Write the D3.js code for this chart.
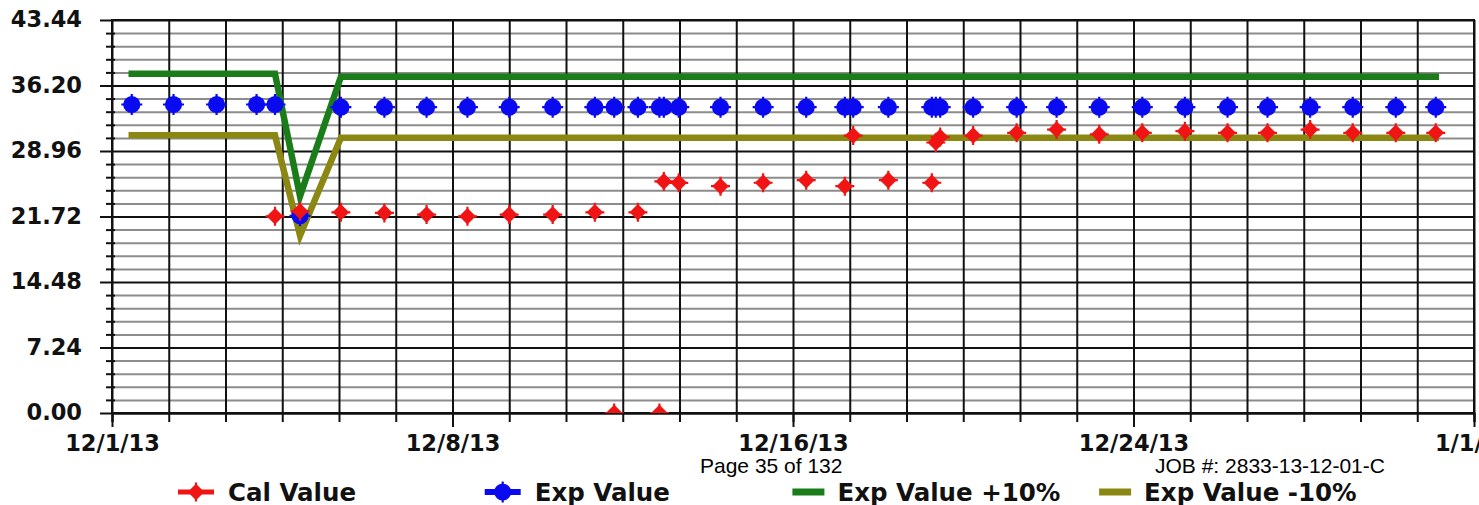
<!DOCTYPE html>
<html>
<head>
<meta charset="utf-8">
<script src="https://cdn.jsdelivr.net/npm/d3@7"></script>
<style>
  body { margin: 0; background: #fff; }
  svg { display: block; }
</style>
</head>
<body>
<div class="canva"></div>
<script>
// readings (time of each calibration entry)
const times = ["12/01/13 10:48","12/02/13 09:36","12/03/13 09:07","12/04/13 06:58","12/04/13 17:02",
  "12/05/13 06:43","12/06/13 05:02","12/07/13 04:48","12/08/13 03:50","12/09/13 02:10",
  "12/10/13 00:58","12/11/13 00:43","12/11/13 23:46","12/12/13 10:19","12/12/13 23:17",
  "12/13/13 11:02","12/13/13 13:26","12/13/13 21:36","12/14/13 20:24","12/15/13 19:41",
  "12/16/13 19:12","12/17/13 16:19","12/17/13 20:53","12/18/13 16:05","12/19/13 15:50",
  "12/19/13 18:00","12/19/13 20:24","12/20/13 14:24","12/21/13 14:10","12/22/13 12:00",
  "12/23/13 11:17","12/24/13 10:48","12/25/13 10:05","12/26/13 09:22","12/27/13 07:12",
  "12/28/13 06:29","12/29/13 05:46","12/30/13 05:17","12/31/13 03:07"];

const calValue = [null, null, null, null, 21.74,
  22.3, 22.18, 22.12, 21.93, 21.74,
  21.93, 21.93, 22.18, 0, 22.18,
  0, 25.6, 25.44, 25.07, 25.45,
  25.74, 25.07, 30.67, 25.74, 25.45,
  29.9, 30.5, 30.67, 30.97, 31.33,
  30.8, 30.97, 31.15, 30.97, 30.97,
  31.33, 30.97, 30.97, 30.97];

const expValue = [34.1, 34.1, 34.1, 34.1, 34.1,
  21.8, 33.8, 33.8, 33.8, 33.8,
  33.8, 33.8, 33.8, 33.8, 33.8,
  33.8, 33.8, 33.8, 33.8, 33.8,
  33.8, 33.8, 33.8, 33.8, 33.8,
  33.8, 33.8, 33.8, 33.8, 33.8,
  33.8, 33.8, 33.8, 33.8, 33.8,
  33.8, 33.8, 33.8, 33.8];

const expPlus10 = [37.51, 37.51, 37.51, 37.51, 37.51,
  23.98, 37.18, 37.18, 37.18, 37.18,
  37.18, 37.18, 37.18, 37.18, 37.18,
  37.18, 37.18, 37.18, 37.18, 37.18,
  37.18, 37.18, 37.18, 37.18, 37.18,
  37.18, 37.18, 37.18, 37.18, 37.18,
  37.18, 37.18, 37.18, 37.18, 37.18,
  37.18, 37.18, 37.18, 37.18];

const expMinus10 = [30.69, 30.69, 30.69, 30.69, 30.69,
  19.62, 30.42, 30.42, 30.42, 30.42,
  30.42, 30.42, 30.42, 30.42, 30.42,
  30.42, 30.42, 30.42, 30.42, 30.42,
  30.42, 30.42, 30.42, 30.42, 30.42,
  30.42, 30.42, 30.42, 30.42, 30.42,
  30.42, 30.42, 30.42, 30.42, 30.42,
  30.42, 30.42, 30.42, 30.42];

const yTickLabels = ["0.00", "7.24", "14.48", "21.72", "28.96", "36.20", "43.44"];
const xTickLabels = ["12/1/13", "12/8/13", "12/16/13", "12/24/13", "1/1/14"];
const legendNames = ["Cal Value", "Exp Value", "Exp Value +10%", "Exp Value -10%"];
const footerLeft = "Page 35 of 132";
const footerRight = "JOB #: 2833-13-12-01-C";

const width = 1479, height = 505;
const margin = { top: 20, right: 5, bottom: 92, left: 112 };

const parse = d3.timeParse("%m/%d/%y %H:%M");
const data = times.map((t, i) => ({
  date: parse(t),
  cal: calValue[i],
  exp: expValue[i],
  plus: expPlus10[i],
  minus: expMinus10[i]
}));

const t0 = parse("12/01/13 00:00"), t1 = parse("01/01/14 00:00");
const x = d3.scaleTime([t0, t1], [margin.left, width - margin.right]);
const yMax = +yTickLabels[yTickLabels.length - 1];
const y = d3.scaleLinear([0, yMax], [height - margin.bottom, margin.top]);

// 4 label intervals, 6 grid steps each
const gridDates = d3.range(25).map(i => new Date(+t0 + i * (t1 - t0) / 24));
const majorDates = gridDates.filter((d, i) => i % 6 === 0);
const yMajor = yTickLabels.map(Number);
const yMinor = d3.range(31).map(i => i * yMax / 30).filter((v, i) => i % 5 !== 0);

const svg = d3.select(".canva").append("svg")
  .attr("width", width)
  .attr("height", height)
  .attr("viewBox", [0, 0, width, height]);

svg.append("clipPath").attr("id", "plot")
  .append("rect")
  .attr("x", margin.left).attr("y", margin.top)
  .attr("width", width - margin.right - margin.left)
  .attr("height", height - margin.bottom - margin.top);

const tickFont = "'DejaVu Sans', Verdana, sans-serif";

// horizontal minor grid
svg.append("g")
  .attr("transform", `translate(${margin.left},0)`)
  .call(d3.axisLeft(y).tickValues(yMinor).tickSize(-(width - margin.right - margin.left)).tickFormat(""))
  .call(g => g.select(".domain").remove())
  .call(g => g.selectAll(".tick line").attr("stroke", "#8c8c8c").attr("stroke-width", 2));

// minor tick stubs on the left
svg.append("g")
  .attr("transform", `translate(${margin.left + 3},0)`)
  .call(d3.axisLeft(y).tickValues(yMinor).tickSize(9).tickFormat(""))
  .call(g => g.select(".domain").remove())
  .call(g => g.selectAll(".tick line").attr("stroke", "#111").attr("stroke-width", 2));

// vertical grid
svg.append("g")
  .attr("transform", `translate(0,${height - margin.bottom})`)
  .call(d3.axisBottom(x).tickValues(gridDates).tickSize(-(height - margin.bottom - margin.top)).tickFormat(""))
  .call(g => g.select(".domain").remove())
  .call(g => g.selectAll(".tick line").attr("stroke", "#111").attr("stroke-width", 2));

// horizontal major grid + y labels
svg.append("g")
  .attr("transform", `translate(${margin.left},0)`)
  .call(d3.axisLeft(y).tickValues(yMajor).tickSize(-(width - margin.right - margin.left)).tickPadding(0)
    .tickFormat((d, i) => yTickLabels[i]))
  .call(g => g.select(".domain").remove())
  .call(g => g.selectAll(".tick line").attr("stroke", "#111").attr("stroke-width", 2))
  .call(g => g.selectAll(".tick").append("line")
    .attr("x1", -12).attr("x2", 0)
    .attr("stroke", "#111").attr("stroke-width", 2))
  .call(g => g.selectAll(".tick text")
    .attr("x", -30)
    .attr("dy", "0.3em")
    .attr("fill", "#111")
    .attr("font-family", tickFont)
    .attr("font-weight", "bold")
    .attr("font-size", 22.5));

// x axis minor ticks
svg.append("g")
  .attr("transform", `translate(0,${height - margin.bottom})`)
  .call(d3.axisBottom(x).tickValues(gridDates).tickSize(9).tickFormat(""))
  .call(g => g.select(".domain").attr("stroke", "#111").attr("stroke-width", 2))
  .call(g => g.selectAll(".tick line").attr("stroke", "#111").attr("stroke-width", 2));

// x axis major ticks + labels
svg.append("g")
  .attr("transform", `translate(0,${height - margin.bottom})`)
  .call(d3.axisBottom(x).tickValues(majorDates).tickSize(14).tickSizeOuter(0).tickPadding(0)
    .tickFormat((d, i) => xTickLabels[i]))
  .call(g => g.select(".domain").remove())
  .call(g => g.selectAll(".tick line").attr("stroke", "#111").attr("stroke-width", 2))
  .call(g => g.selectAll(".tick text")
    .attr("y", 38)
    .attr("dy", 0)
    .attr("fill", "#111")
    .attr("font-family", tickFont)
    .attr("font-weight", "bold")
    .attr("font-size", 22.5));

// frame
svg.append("rect")
  .attr("x", margin.left).attr("y", margin.top)
  .attr("width", width - margin.right - margin.left)
  .attr("height", height - margin.bottom - margin.top)
  .attr("fill", "none").attr("stroke", "#111").attr("stroke-width", 2);

const colors = { cal: "#f01414", exp: "#0a0af0", plus: "#1a7d1a", minus: "#8a8812" };

const line = key => d3.line().x(d => x(d.date)).y(d => y(d[key]));

const plot = svg.append("g").attr("clip-path", "url(#plot)");

plot.append("path")
  .attr("d", line("plus")(data))
  .attr("fill", "none").attr("stroke", colors.plus)
  .attr("stroke-width", 6.5).attr("stroke-linecap", "square");

plot.append("path")
  .attr("d", line("minus")(data))
  .attr("fill", "none").attr("stroke", colors.minus)
  .attr("stroke-width", 6.5).attr("stroke-linecap", "square");

// marker shapes: a filled body with small spikes
function spikes(g, color, len) {
  g.append("path")
    .attr("d", `M${-len},0H${len}M0,${-len}V${len}`)
    .attr("stroke", color).attr("stroke-width", 2.2);
}
function expMarker(g, color) {
  spikes(g, color, 10.5);
  g.append("circle").attr("r", 8.6).attr("fill", color);
}
function calMarker(g, color) {
  spikes(g, color, 9.5);
  g.append("path")
    .attr("d", d3.symbol(d3.symbolDiamond2, 175)())
    .attr("fill", color);
}

plot.append("g").selectAll("g")
  .data(data)
  .join("g")
  .attr("transform", d => `translate(${x(d.date)},${y(d.exp)})`)
  .each(function () { expMarker(d3.select(this), colors.exp); });

plot.append("g").selectAll("g")
  .data(data.filter(d => d.cal != null))
  .join("g")
  .attr("transform", d => `translate(${x(d.date)},${y(d.cal)})`)
  .each(function () { calMarker(d3.select(this), colors.cal); });

// legend
const legend = svg.append("g").attr("transform", "translate(0,492)");
const legendColors = [colors.cal, colors.exp, colors.plus, colors.minus];
legendNames.forEach((name, i) => {
  const lx = 178 + i * 306.7;
  const item = legend.append("g").attr("transform", `translate(${lx},0)`);
  if (i < 2) {
    item.append("line").attr("x1", 0).attr("x2", 36)
      .attr("stroke", legendColors[i]).attr("stroke-width", i === 0 ? 5 : 6);
    const m = item.append("g").attr("transform", "translate(18,0)");
    if (i === 0) calMarker(m, legendColors[i]); else expMarker(m, legendColors[i]);
  } else {
    item.append("line").attr("x1", 1).attr("x2", 33)
      .attr("stroke", legendColors[i]).attr("stroke-width", 7);
  }
  item.append("text")
    .attr("x", i < 2 ? 50 : 46)
    .attr("y", 9)
    .attr("fill", "#111")
    .attr("font-family", tickFont)
    .attr("font-weight", "bold")
    .attr("font-size", 24.5)
    .text(name);
});

// page footer
svg.append("text")
  .attr("x", 700).attr("y", 473)
  .attr("font-family", "'Liberation Sans', Arial, sans-serif")
  .attr("font-size", 21)
  .attr("fill", "#000")
  .text(footerLeft);

svg.append("text")
  .attr("x", 1155).attr("y", 473)
  .attr("font-family", "'Liberation Sans', Arial, sans-serif")
  .attr("font-size", 21)
  .attr("fill", "#000")
  .text(footerRight);
</script>
</body>
</html>
